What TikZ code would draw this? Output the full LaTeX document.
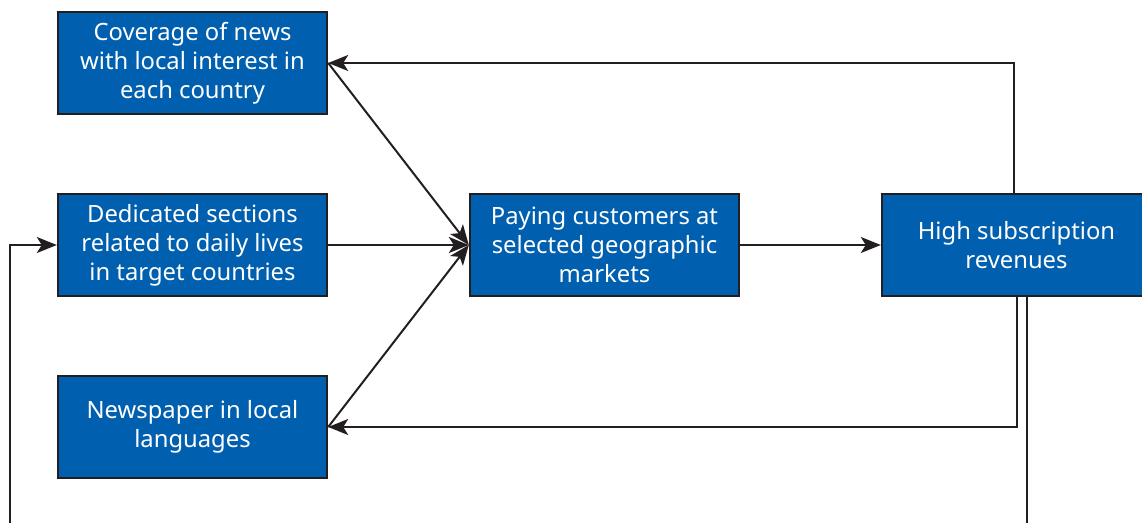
\documentclass[tikz,border=0pt]{standalone}
\usepackage{fontspec}
\setmainfont{Noto Sans}
\usetikzlibrary{arrows.meta}
\definecolor{boxblue}{RGB}{0,95,174}
\definecolor{ink}{RGB}{35,31,32}
\tikzset{
  blockbox/.style={draw=ink, line width=2.4pt, fill=boxblue, text=white,
    minimum width=269pt, minimum height=102pt, inner sep=0pt, align=center,
    font=\fontsize{23.8}{29}\selectfont},
  arr/.style={draw=ink, line width=2pt,
    -{Stealth[length=20pt, width=16pt, inset=5pt]}}
}
\begin{document}
\begin{tikzpicture}[x=1pt, y=-1pt]
  \useasboundingbox (0,0) rectangle (1142,522);
  \clip (0,0) rectangle (1142,522);

  % blocks
  \node[blockbox] (cov)  at (192.5,63)  {Coverage of news\\with local interest in\\each country};
  \node[blockbox] (ded)  at (192.5,245) {Dedicated sections\\related to daily lives\\in target countries};
  \node[blockbox] (lang) at (192.5,427) {Newspaper in local\\languages};
  \node[blockbox] (pay)  at (604.5,245) {Paying customers at\\selected geographic\\markets};
  \node[blockbox] (rev)  at (1016.5,245) {High subscription\\revenues};

  % inputs to paying customers
  \draw[arr] (cov.east) -- (pay.west);
  \draw[arr] (ded.east) -- (pay.west);
  \draw[arr] (lang.east) -- (pay.west);
  \draw[arr] (pay.east) -- (rev.west);

  % feedback from revenues
  \draw[arr] ([xshift=-2.5pt]rev.north) |- (cov.east);
  \draw[arr] ([xshift=0.5pt]rev.south) |- (lang.east);

  % long loop back to dedicated sections
  \coordinate (loopR) at (1027,560);
  \coordinate (loopL) at (10,560);
  \draw[arr] (rev.south -| loopR) -- (loopR) -- (loopL) |- (ded.west);
\end{tikzpicture}
\end{document}
